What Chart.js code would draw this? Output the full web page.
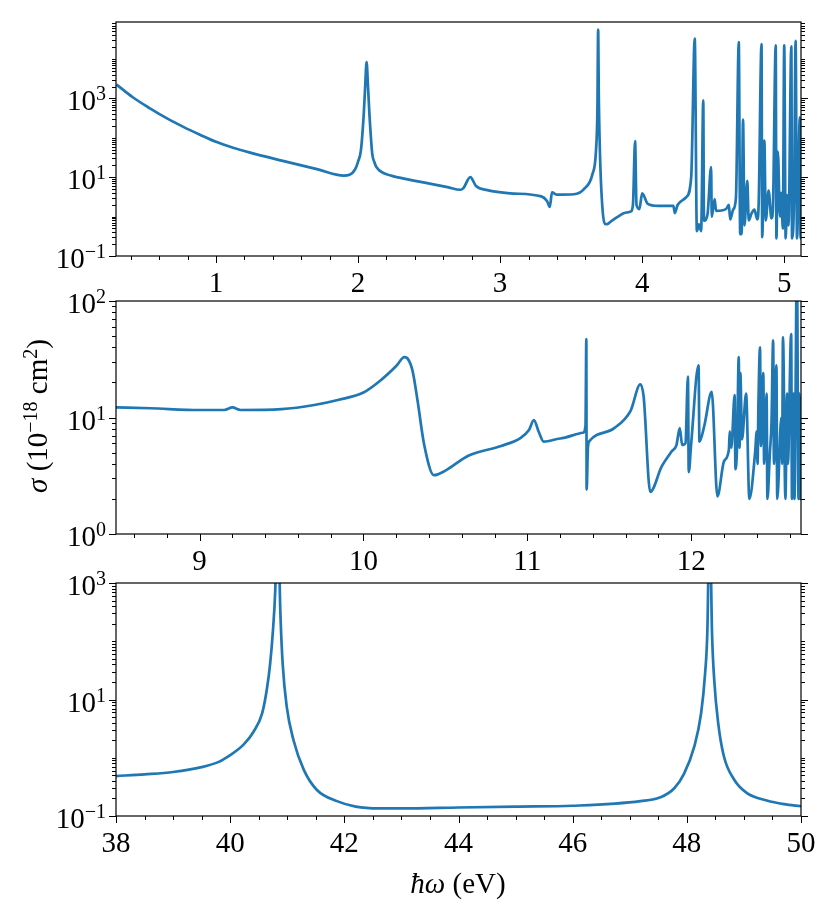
<!DOCTYPE html>
<html>
<head>
<meta charset="utf-8">
<script src="https://cdn.jsdelivr.net/npm/chart.js@4.4.1/dist/chart.umd.min.js"></script>
<style>
    body { margin: 0; background: #fff; }
    .wrap { position: relative; width: 831px; height: 915px; }
    .wrap canvas { position: absolute; left: 0; top: 0; }
</style>
</head>
<body>
<div class="wrap">
    <canvas id="lowChart" width="831" height="915"></canvas>
    <canvas id="midChart" width="831" height="915"></canvas>
    <canvas id="highChart" width="831" height="915"></canvas>
</div>
<script>
// photon energy (eV) and cross section (10^-18 cm^2)
const lowEnergy = [
    0.30, 0.414, 0.535, 0.652, 0.77, 0.887, 1.0, 1.12, 1.24, 1.47,
    1.71, 1.9, 1.94, 1.98, 2.0, 2.02, 2.04, 2.05, 2.06, 2.07,
    2.08, 2.1, 2.115, 2.13, 2.23, 2.3, 2.44, 2.53, 2.63, 2.72,
    2.74, 2.79, 2.83, 2.91, 3.07, 3.29, 3.33, 3.35, 3.365, 3.40,
    3.52, 3.59, 3.65, 3.675, 3.685, 3.69, 3.695, 3.72, 3.745, 3.76,
    3.78, 3.80, 3.83, 3.88, 3.92, 3.935, 3.95, 3.96, 3.98, 4.0,
    4.04, 4.11, 4.22, 4.23, 4.25, 4.31, 4.345, 4.37, 4.385, 4.40,
    4.415, 4.43, 4.435, 4.46, 4.485, 4.49, 4.51, 4.52, 4.59, 4.61,
    4.62, 4.64, 4.66, 4.68, 4.69, 4.70, 4.71, 4.72, 4.74, 4.75,
    4.77, 4.79, 4.81, 4.82, 4.84, 4.845, 4.86, 4.87, 4.89, 4.91,
    4.92, 4.94, 4.945, 4.955, 4.97, 4.98, 4.99, 5.0, 5.01, 5.02,
    5.03, 5.05, 5.055, 5.07, 5.08, 5.09, 5.11, 5.115, 5.12
];
const lowSigma = [
    2240, 1070, 560, 316, 190, 120, 79, 56, 42, 26,
    16, 11, 11.5, 16, 25, 48, 400, 2000, 8300, 2000,
    400, 39, 24, 18, 11, 9.6, 7.6, 6.6, 5.6, 4.8,
    5.2, 10, 6, 4.7, 3.9, 3.26, 2.5, 1.77, 4.1, 3.6,
    3.7, 5, 12, 48, 600, 56000, 900, 1.7, 0.64, 0.66,
    0.75, 0.85, 1.0, 1.25, 1.35, 2, 82, 2, 1.55, 3.9,
    2.1, 1.87, 1.87, 1.23, 2, 3.1, 9.9, 33000, 0.43, 0.64,
    0.43, 900, 0.78, 1.15, 18, 1.0, 2.8, 1.4, 1.55, 2,
    0.85, 1.5, 3, 27000, 0.36, 0.36, 290, 0.6, 8.1, 0.8,
    1.2, 1.5, 0.85, 2.1, 24000, 0.3, 85, 0.8, 4.6, 0.9,
    1.5, 22400, 0.28, 45, 1.0, 4, 0.5, 22400, 0.28, 3.5,
    0.6, 21000, 0.28, 5, 29000, 0.28, 330, 0.28, 1.5
];

const midEnergy = [
    8.49, 8.7, 9.0, 9.15, 9.2, 9.25, 9.5, 9.7, 9.85, 10.0,
    10.1, 10.2, 10.25, 10.27, 10.3, 10.33, 10.37, 10.43, 10.5, 10.64,
    10.84, 10.96, 11.01, 11.04, 11.07, 11.1, 11.2, 11.34, 11.355, 11.36,
    11.362, 11.37, 11.38, 11.53, 11.63, 11.69, 11.71, 11.75, 11.82, 11.88,
    11.91, 11.93, 11.945, 11.965, 11.98, 11.985, 12.0, 12.045, 12.05, 12.08,
    12.125, 12.16, 12.2, 12.23, 12.235, 12.245, 12.265, 12.27, 12.28, 12.29,
    12.295, 12.3, 12.31, 12.335, 12.355, 12.39, 12.4, 12.405, 12.41, 12.42,
    12.425, 12.44, 12.445, 12.46, 12.465, 12.48, 12.49, 12.5, 12.505, 12.52,
    12.525, 12.55, 12.555, 12.56, 12.575, 12.585, 12.59, 12.61, 12.615, 12.625,
    12.63, 12.645, 12.655, 12.66, 12.665, 12.67
];
const midSigma = [
    12.2, 12.0, 11.6, 11.6, 12.2, 11.6, 11.8, 12.8, 14.2, 16.4,
    20.6, 27.7, 33, 32, 25, 14, 5.9, 3.2, 3.5, 4.7,
    5.7, 6.7, 7.8, 9.5, 7.5, 6.2, 6.6, 7.4, 8.5, 47,
    2.4, 5.6, 6.3, 8.1, 11.4, 19.3, 15, 2.3, 3.8, 5.1,
    5.8, 8.1, 5.8, 6, 22.4, 3.4, 6, 28, 6.2, 8.5,
    16.6, 2.1, 4.2, 5.3, 7.6, 5.5, 15.6, 3.6, 5.8, 33,
    5.5, 24, 6.5, 16, 2.0, 5.0, 7.6, 4, 12.5, 40,
    5.7, 24, 4, 16, 2.0, 5, 9, 46, 4, 28,
    2.0, 10, 4, 49, 2.0, 16, 4, 52, 2.0, 16,
    2.0, 200, 2.0, 16, 2.0, 15
];

const highEnergy = [
    38, 38.5, 39, 39.5, 39.8, 40.0, 40.23, 40.41, 40.56, 40.64,
    40.70, 40.75, 40.79, 40.83, 40.88, 40.92, 40.99, 41.11, 41.29, 41.52,
    41.87, 42.2, 42.6, 43, 44, 45, 46, 47.19, 47.54, 47.78,
    47.95, 48.13, 48.25, 48.32, 48.36, 48.40, 48.44, 48.48, 48.55, 48.65,
    48.83, 49.06, 49.4, 49.7, 50
];
const highSigma = [
    0.485, 0.52, 0.57, 0.69, 0.85, 1.11, 1.66, 2.8, 5.8, 14.4,
    41, 155, 760, 20000, 300, 41, 7.6, 2.0, 0.62, 0.28,
    0.18, 0.145, 0.135, 0.135, 0.14, 0.145, 0.15, 0.18, 0.21, 0.30,
    0.53, 1.55, 5.8, 28, 155, 20000, 155, 21.6, 3.9, 1.05,
    0.42, 0.245, 0.185, 0.16, 0.147
];

// tick labels
const lowXTicks = [1, 2, 3, 4, 5];
const midXTicks = [9, 10, 11, 12];
const highXTicks = [38, 40, 42, 44, 46, 48, 50];
const lowYExp = [-1, 1, 3];
const midYExp = [0, 1, 2];
const highYExp = [-1, 1, 3];

const FONT = '"Liberation Serif", "DejaVu Serif", serif';
const BLUE = '#1f77b4';

function drawParts(ctx, parts, x, y, align) {
    let w = 0;
    parts.forEach(p => {
        ctx.font = (p.i ? 'italic ' : '') + (p.s ? 20 : 29) + 'px ' + FONT;
        w += ctx.measureText(p.t).width;
    });
    let cx = align === 'right' ? x - w : align === 'center' ? x - w / 2 : x;
    parts.forEach(p => {
        ctx.font = (p.i ? 'italic ' : '') + (p.s ? 20 : 29) + 'px ' + FONT;
        ctx.fillText(p.t, cx, p.s ? y - 10 : y);
        cx += ctx.measureText(p.t).width;
    });
}

// matplotlib-like box, ticks and labels
const axesFrame = {
    id: 'axesFrame',
    afterDraw(chart, args, o) {
        const { ctx, chartArea: a, scales: { x, y } } = chart;
        ctx.save();
        ctx.strokeStyle = '#000';
        ctx.fillStyle = '#000';
        ctx.textAlign = 'left';
        ctx.textBaseline = 'alphabetic';

        ctx.lineWidth = 1;
        ctx.beginPath();
        // x minor + major ticks (bottom, outward)
        const n = Math.round((x.max - o.xMinorStart) / o.xMinorStep);
        for (let k = 0; k <= n; k++) {
            const v = o.xMinorStart + k * o.xMinorStep;
            if (v > x.max + 1e-9) break;
            const px = Math.round(x.getPixelForValue(v)) + 0.5;
            const major = o.xTicks.some(t => Math.abs(t - v) < 1e-6);
            ctx.moveTo(px, a.bottom);
            ctx.lineTo(px, a.bottom + (major ? 7 : 4));
        }
        // y log ticks (left and right, outward)
        const lo = Math.floor(Math.log10(y.min)), hi = Math.ceil(Math.log10(y.max));
        for (let e = lo; e <= hi; e++) {
            for (let m = 1; m <= 9; m++) {
                const v = m * Math.pow(10, e);
                if (v < y.min * 0.999 || v > y.max * 1.001) continue;
                const py = Math.round(y.getPixelForValue(v)) + 0.5;
                const len = (m === 1 && o.yExp.includes(e)) ? 7 : 4;
                ctx.moveTo(a.left, py); ctx.lineTo(a.left - len, py);
                ctx.moveTo(a.right, py); ctx.lineTo(a.right + len, py);
            }
        }
        ctx.stroke();

        ctx.lineWidth = 1.2;
        ctx.strokeRect(a.left, a.top, a.right - a.left, a.bottom - a.top);

        o.xTicks.forEach(t => {
            drawParts(ctx, [{ t: String(t) }], x.getPixelForValue(t), a.bottom + 36, 'center');
        });
        o.yExp.forEach(e => {
            const py = y.getPixelForValue(Math.pow(10, e));
            const ex = e < 0 ? '\u2212' + Math.abs(e) : String(e);
            drawParts(ctx, [{ t: '10' }, { t: ex, s: true }], a.left - 10, py + 12, 'right');
        });

        if (o.yTitle) {
            ctx.translate(47, 416);
            ctx.rotate(-Math.PI / 2);
            drawParts(ctx, [
                { t: '\u03C3', i: true }, { t: ' (10' }, { t: '\u221218', s: true },
                { t: ' cm' }, { t: '2', s: true }, { t: ')' }
            ], 0, 0, 'center');
            ctx.setTransform(1, 0, 0, 1, 0, 0);
        }
        if (o.xTitle) {
            drawParts(ctx, [{ t: '\u0127\u03C9', i: true }, { t: ' (eV)' }], 458, 893, 'center');
        }
        ctx.restore();
    }
};

function makePanel(id, xs, ys, xr, yr, pad, frame) {
    const ctx = document.getElementById(id).getContext('2d');
    return new Chart(ctx, {
        type: 'line',
        data: {
            datasets: [{
                data: xs.map((v, i) => ({ x: v, y: ys[i] })),
                borderColor: BLUE,
                borderWidth: 2.7,
                pointRadius: 0,
                cubicInterpolationMode: 'monotone',
                fill: false,
            }]
        },
        options: {
            responsive: false,
            animation: false,
            events: [],
            layout: { padding: pad },
            plugins: {
                legend: { display: false },
                tooltip: { enabled: false },
                axesFrame: frame
            },
            scales: {
                x: { type: 'linear', min: xr[0], max: xr[1], display: false },
                y: { type: 'logarithmic', min: yr[0], max: yr[1], display: false }
            }
        },
        plugins: [axesFrame]
    });
}

makePanel('lowChart', lowEnergy, lowSigma, [0.296, 5.118], [0.1, Math.pow(10, 4.94)],
    { left: 116, right: 30, top: 22, bottom: 659 },
    { xTicks: lowXTicks, xMinorStart: 0.4, xMinorStep: 0.2, yExp: lowYExp });

makePanel('midChart', midEnergy, midSigma, [8.49, 12.67], [1, 100],
    { left: 116, right: 30, top: 301, bottom: 381 },
    { xTicks: midXTicks, xMinorStart: 8.6, xMinorStep: 0.2, yExp: midYExp, yTitle: true });

makePanel('highChart', highEnergy, highSigma, [38, 50], [0.1, 1000],
    { left: 116, right: 30, top: 583, bottom: 99 },
    { xTicks: highXTicks, xMinorStart: 38, xMinorStep: 0.5, yExp: highYExp, xTitle: true });
</script>
</body>
</html>
